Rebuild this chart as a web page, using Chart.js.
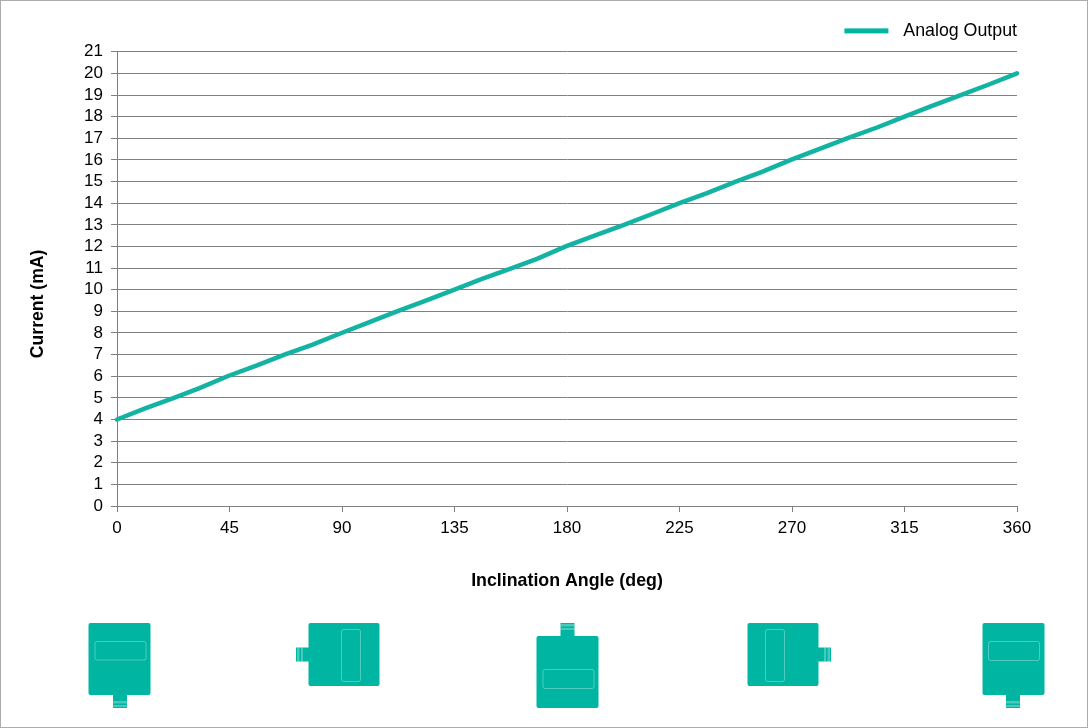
<!DOCTYPE html>
<html><head><meta charset="utf-8">
<script src="https://cdn.jsdelivr.net/npm/chart.js@4"></script>
<style>html,body{margin:0;padding:0;background:#fff}
#w{position:relative;width:1088px;height:728px;box-sizing:border-box}
canvas{display:block}</style></head>
<body><div id="w"><canvas id="c" width="1088" height="728"></canvas></div>
<script>
const seriesName = 'Analog Output';
const angles =  [0,11,22.8,33,44.2,56,67,78,89.8,101,112,123,135,146,158,168,179.5,191,202.8,214,225,236,247.5,258,269.5,280,292,304,315,326,337.5,349,360];
const current = [4,4.5,5,5.45,6,6.5,7,7.45,8,8.5,9,9.47,10,10.5,11,11.43,12,12.5,13,13.5,14,14.47,15,15.45,16,16.47,17,17.5,18,18.5,19,19.5,20];
const xTicks = [0,45,90,135,180,225,270,315,360];
const teal = '#00B5A1';
const lineTeal = '#12B3A2';
const inner = 'rgba(255,255,255,0.3)';
const FONT = 'Liberation Sans';

function rr(g,x,y,w,h,r){g.beginPath();g.roundRect(x,y,w,h,r);}
const icons = [
 {b:[88.5,623,62,72], s:[94.5,641,52,19.5], t:[113,695,14,13], stripes:'bottom'},
 {b:[308.5,623,71,63], s:[341,629,20,53],   t:[296,647.5,13,14], stripes:'left'},
 {b:[536.5,636,62,72], s:[542.5,669,52,20], t:[560.5,623,14,13], stripes:'top'},
 {b:[747.5,623,71,63], s:[765,629,20,53],   t:[818,647.5,13,14], stripes:'right'},
 {b:[982.5,623,62,72], s:[988,641,52,20],   t:[1006,695,14,13], stripes:'bottom'}
];
const legendShift={x:12,y:-2};
const yTitleShift=25;
const decor = {
 id:'decor',
 afterLayout(ch){
  const l=ch.legend, dx=legendShift.x, dy=legendShift.y;
  l.left+=dx; l.right+=dx; l.top+=dy; l.bottom+=dy;
  const s=ch.scales.y;
  if(!s._titleShifted){
    const d=s.drawTitle;
    s.drawTitle=function(){const g=this.ctx;g.save();g.translate(0,yTitleShift);d.apply(this,arguments);g.restore();};
    s._titleShifted=true;
  }
 },
 afterDraw(ch){
  const g=ch.ctx; g.save();
  g.strokeStyle='#ABABAB'; g.lineWidth=1; g.strokeRect(0.5,0.5,1087,727);
  const hb=ch.legend.legendHitBoxes[0];
  g.fillStyle=teal;
  g.fillRect(hb.left,hb.top+hb.height/2-2.5,44,5);
  for(const ic of icons){
    g.fillStyle=teal;
    rr(g,...ic.b,2); g.fill();
    g.fillRect(...ic.t);
    const [tx,ty,tw,th]=ic.t;
    g.fillStyle='rgba(255,255,255,0.28)';
    if(ic.stripes==='bottom'){g.fillRect(tx,ty+6,tw,2.5);g.fillRect(tx,ty+10,tw,2);}
    if(ic.stripes==='top'){g.fillRect(tx,ty+1,tw,2.5);g.fillRect(tx,ty+5,tw,2);}
    if(ic.stripes==='left'){g.fillRect(tx+1,ty,2.5,th);g.fillRect(tx+5,ty,2,th);}
    if(ic.stripes==='right'){g.fillRect(tx+tw-3.5,ty,2.5,th);g.fillRect(tx+tw-7,ty,2,th);}
    g.strokeStyle=inner; g.lineWidth=1;
    const [sx,sy,sw,sh]=ic.s;
    rr(g,sx+0.5,sy+0.5,sw-1,sh-1,2); g.stroke();
  }
  g.restore();
 }
};
new Chart(document.getElementById('c'),{
 type:'line',
 data:{datasets:[{label:seriesName,data:angles.map((a,i)=>({x:a,y:current[i]})),borderColor:lineTeal,backgroundColor:lineTeal,borderWidth:4.5,pointRadius:0,tension:0,borderCapStyle:'round',clip:false}]},
 plugins:[decor],
 options:{
  responsive:false,animation:false,
  layout:{padding:{left:0,right:71,top:12,bottom:0}},
  plugins:{
   tooltip:{enabled:false},
   legend:{display:true,position:'top',align:'end',
     labels:{color:'#000',font:{family:FONT,size:17.8},boxWidth:50,boxHeight:5,padding:12,
       generateLabels(ch){return [{text:seriesName,fillStyle:'rgba(0,0,0,0)',strokeStyle:'rgba(0,0,0,0)',lineWidth:0,datasetIndex:0}];}}
   }
  },
  scales:{
   x:{type:'linear',min:0,max:360,
     afterBuildTicks(s){s.ticks=xTicks.map(v=>({value:v}));},
     afterFit(s){s.height=222;},
     grid:{display:true,drawOnChartArea:false,drawTicks:true,tickLength:6,color:'#808080'},
     border:{color:'#808080'},
     ticks:{color:'#000',font:{family:FONT,size:17},maxRotation:0,autoSkip:false,padding:6},
     title:{display:true,text:'Inclination Angle (deg)',color:'#000',font:{family:FONT,size:17.8,weight:'bold'},padding:{top:0,bottom:136}}
   },
   y:{min:0,max:21,
     afterFit(s){s.width=117;},
     grid:{color:'#808080',tickLength:6,lineWidth:1},
     border:{color:'#808080'},
     ticks:{stepSize:1,color:'#000',font:{family:FONT,size:17},padding:8,autoSkip:false},
     title:{display:true,text:'Current (mA)',color:'#000',font:{family:FONT,size:17.6,weight:'bold'},padding:{top:28,bottom:0}}
   }
  }
 }
});
</script></body></html>
